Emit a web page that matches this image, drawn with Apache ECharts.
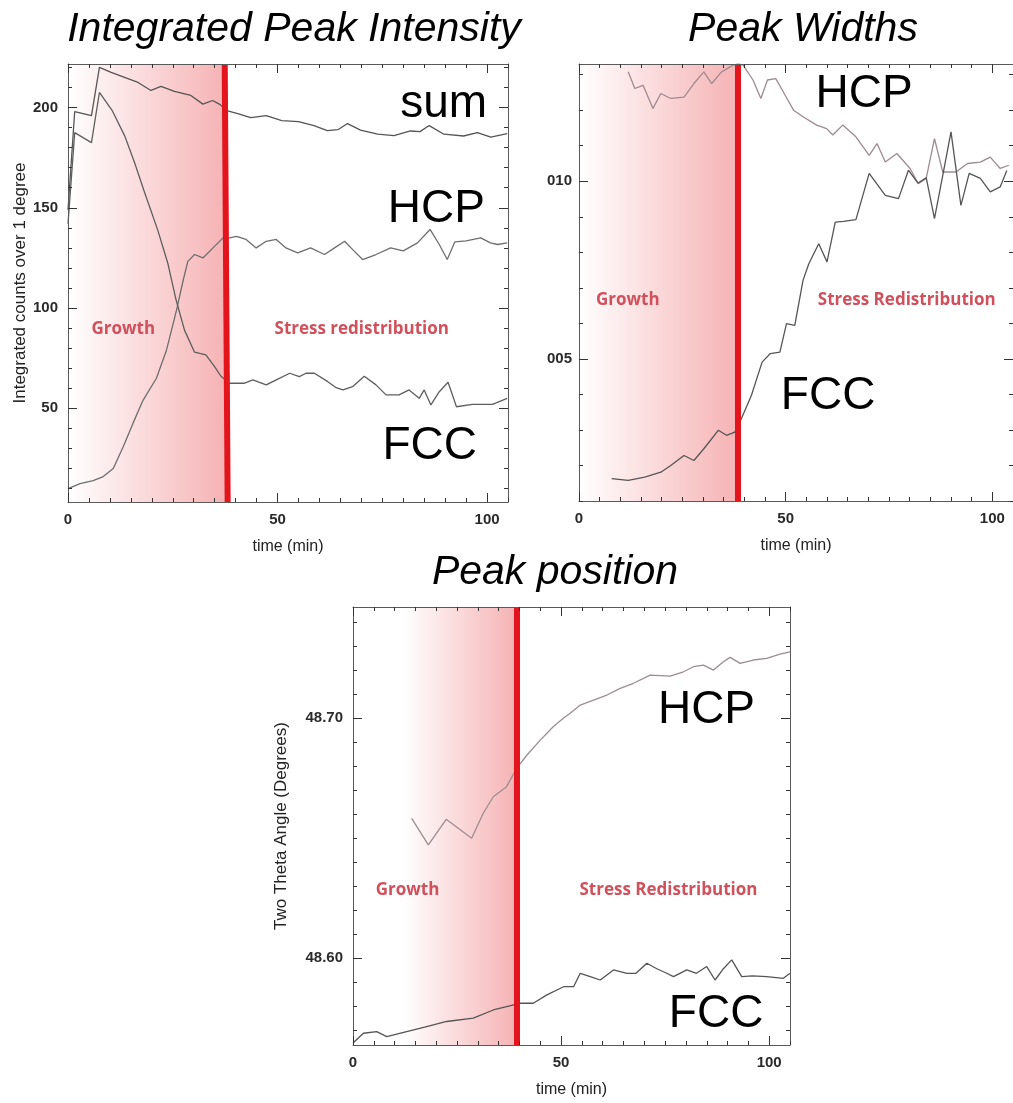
<!DOCTYPE html>
<html>
<head>
<meta charset="utf-8">
<script src="https://cdn.jsdelivr.net/npm/echarts@6/dist/echarts.min.js"></script>
<style>
  html, body { margin: 0; padding: 0; background: #ffffff; }
  #chart { width: 1013px; height: 1103px; }
</style>
</head>
<body>
<div id="chart"></div>
<script>
// ---------- Integrated peak intensity (counts over 1 degree) ----------
const intSumTime = [0, 1.6, 5.6, 7.5, 10.3, 13.5, 16.7, 19.8, 22.2, 25.4, 29.3, 32.2, 34.5, 36.1, 38.1, 40.5, 43.6, 47.3, 51, 55, 58.7, 61.9, 64.5, 66.7, 69.8, 73.9, 77.8, 81.7, 84, 86.2, 89.7, 94.4, 97.7, 100.9, 104.8];
const intSum     = [149, 198, 196, 220, 217.5, 215, 212.5, 208.5, 210.5, 208, 206, 201.7, 203.5, 201.7, 198.3, 197, 195, 196, 193.5, 193, 191, 188.5, 189, 192, 188.7, 186.7, 186, 188.3, 188, 191, 186.7, 185.8, 187.5, 185.2, 187];

const intHcpTime = [0, 2.9, 6, 8.4, 10.8, 13.2, 15.5, 17.9, 21.1, 23.5, 25.9, 27.5, 28.6, 30.2, 32.2, 34.6, 37, 38.6, 40.2, 42.5, 44.9, 47.3, 49.7, 52, 54.8, 57.9, 61.2, 63.6, 66, 68, 70.3, 73.5, 77, 80, 83.4, 86.4, 88.6, 90.5, 92.3, 95, 98.5, 100.8, 102.5, 104.8];
const intHcp     = [10, 12.5, 14, 16, 20, 31, 42.5, 54, 65, 79, 99, 114, 123.3, 126.7, 125, 130, 135, 135, 135.8, 134.2, 130, 133.3, 134.2, 130, 127.5, 130, 126.7, 130, 133.3, 129, 124.2, 126.7, 130, 128.5, 132.5, 139.2, 131.7, 124.2, 133, 133.5, 135, 132.5, 131.7, 132.5];

const intFccTime = [0, 1.6, 5.6, 7.5, 10.6, 13.5, 15.9, 18.3, 21.4, 23.8, 25.8, 27.8, 30.2, 32.9, 34.9, 36.5, 38.6, 42, 44.1, 47.3, 49.7, 52.9, 55.2, 56.8, 58.8, 62, 64, 65.6, 67.9, 70.7, 73.5, 75.9, 79, 81.4, 83.8, 85, 86.6, 88.6, 90.7, 92.7, 96.5, 101.3, 104.8];
const intFcc     = [142, 187.5, 182.5, 207.5, 198.3, 186, 172.5, 157.5, 139, 122.5, 104, 89, 78, 76.7, 71, 66, 62.5, 62.5, 64.2, 61.7, 64.2, 67.5, 65.8, 67.5, 67.5, 63.3, 60.3, 59.2, 60.8, 66, 61.7, 56.7, 56.7, 59.2, 55, 59.2, 51.7, 58.3, 63, 50.8, 52, 52, 55];

const intTicks = [50, 100, 150, 200];

// ---------- Peak widths ----------
const widHcpTime = [11.9, 13.5, 15.5, 17.9, 19.8, 22.2, 25.4, 27.8, 30.2, 32.1, 34.5, 37.3, 38.5, 39.7, 42.1, 44, 45.6, 47.6, 49.2, 51.9, 54.3, 57.5, 59.9, 61.4, 63.8, 67, 70.2, 72.1, 74.1, 76.9, 80.1, 82.1, 84, 86, 88, 91.2, 94, 97.1, 99.5, 101.9, 104];
const widHcp     = [0.01308, 0.01261, 0.01270, 0.01205, 0.01247, 0.01233, 0.01237, 0.01275, 0.01308, 0.01275, 0.01308, 0.01327, 0.01330, 0.01327, 0.01285, 0.01233, 0.01285, 0.01289, 0.01256, 0.01200, 0.01181, 0.01158, 0.01148, 0.01130, 0.01158, 0.01125, 0.01073, 0.01106, 0.01054, 0.01078, 0.01036, 0.00993, 0.01008, 0.01120, 0.01026, 0.01026, 0.01050, 0.01054, 0.01068, 0.01036, 0.01045];

const widFccTime = [7.9, 11.9, 15.9, 19.8, 22.2, 25.4, 27.8, 30.2, 33.7, 35.7, 37.7, 39.3, 41.7, 44.3, 46.3, 48.6, 50.2, 52.2, 54.2, 55.6, 58, 60, 62, 64, 67, 70.2, 74.1, 77.3, 79.7, 82, 84, 86, 88.1, 90, 92.4, 94.4, 97.1, 99.5, 101.9, 103.5];
const widFcc     = [0.00163, 0.00158, 0.00167, 0.00181, 0.00200, 0.00228, 0.00214, 0.00247, 0.00299, 0.00285, 0.00294, 0.00332, 0.00397, 0.00491, 0.00515, 0.00519, 0.00599, 0.00594, 0.00721, 0.00768, 0.00824, 0.00773, 0.00885, 0.00887, 0.00892, 0.01022, 0.00960, 0.00951, 0.01031, 0.00995, 0.01010, 0.00895, 0.01022, 0.01139, 0.00932, 0.01022, 0.01008, 0.00970, 0.00984, 0.01030];

const widTicks = [0.005, 0.010];
const widTickLabels = ['005', '010'];

// ---------- Peak position (two theta, degrees) ----------
const posHcpTime = [14.1, 18.1, 22.4, 28.5, 31.3, 33.7, 36.9, 39.3, 41.8, 45, 48.1, 50.6, 52.2, 54.6, 57.8, 61, 64.2, 67.4, 71.4, 76.2, 79.4, 81.8, 84.2, 86.6, 89, 90.6, 93, 96.2, 99.4, 102.6, 105];
const posHcp     = [48.6582, 48.6471, 48.6578, 48.6499, 48.6603, 48.6672, 48.6714, 48.6790, 48.6846, 48.6908, 48.6964, 48.7000, 48.7020, 48.7054, 48.7075, 48.7096, 48.7124, 48.7145, 48.7179, 48.7175, 48.7193, 48.7214, 48.7221, 48.7200, 48.7235, 48.7253, 48.7228, 48.7242, 48.7249, 48.7267, 48.7276];

const posFccTime = [0, 2.5, 5.7, 8.1, 12.9, 17.7, 22.5, 28.9, 33.7, 36.9, 40.1, 43.3, 46.6, 50.6, 53, 54.6, 57, 59.4, 62.6, 65.8, 68, 70.6, 73, 75.4, 77, 80.2, 82.5, 85, 87, 89, 91, 93.4, 96, 99.4, 103.4, 105];
const posFcc     = [48.5645, 48.5686, 48.5693, 48.5672, 48.5693, 48.5714, 48.5735, 48.5749, 48.5783, 48.5797, 48.5811, 48.5811, 48.5846, 48.5880, 48.5880, 48.5936, 48.5922, 48.5908, 48.5950, 48.5936, 48.5936, 48.5978, 48.5955, 48.5936, 48.5922, 48.5950, 48.5936, 48.5964, 48.5908, 48.5955, 48.5992, 48.5922, 48.5925, 48.5922, 48.5915, 48.5936];

const posTicks = [48.60, 48.70];

const timeTicks = [0, 50, 100];

// ---------- helpers ----------
const chart = echarts.init(document.getElementById('chart'), null, { renderer: 'canvas' });

function steps(lo, hi, step) {
  const out = [];
  const start = Math.ceil(lo / step - 1e-9);
  for (let k = start; k * step <= hi + 1e-12; k++) out.push(+(k * step).toFixed(6));
  return out;
}

const tickLabelStyle = {
  fontFamily: 'Liberation Sans, Arial, sans-serif',
  fontWeight: 'bold',
  fontSize: 15,
  color: '#2a2a2a'
};
const nameStyle = {
  fontFamily: 'Liberation Sans, Arial, sans-serif',
  fontSize: 16,
  color: '#222'
};

const xAxes = [];
const yAxes = [];

// One framed side of a box: main axis (line, long ticks, optional labels) plus a minor-tick axis
function side(list, gi, pos, range, majors, minors, labelOpt, nameOpt) {
  const base = {
    type: 'value', gridIndex: gi, position: pos, z: 10,
    min: range[0], max: range[1],
    splitLine: { show: false }, splitArea: { show: false }
  };
  const main = Object.assign({}, base, {
    axisLine: { show: true, onZero: false, lineStyle: { color: '#5a5a5a', width: 1 } },
    axisTick: { show: true, inside: true, length: 9, customValues: majors, lineStyle: { color: '#333', width: 1 } },
    axisLabel: labelOpt ? Object.assign({ show: true, customValues: majors }, tickLabelStyle, labelOpt) : { show: false }
  }, nameOpt || {});
  list.push(main);
  const idx = list.length - 1;
  list.push(Object.assign({}, base, {
    axisLine: { show: false, onZero: false },
    axisTick: { show: true, inside: true, length: 4, customValues: minors, lineStyle: { color: '#333', width: 1 } },
    axisLabel: { show: false }
  }));
  return idx;
}

function box(gi, xr, yr, xMinorStep, yMinorStep, yMajors, yLabelOpt, yNameOpt) {
  const xMinors = steps(xr[0], xr[1], xMinorStep);
  const yMinors = steps(yr[0], yr[1], yMinorStep);
  const xi = side(xAxes, gi, 'bottom', xr, timeTicks, xMinors, { margin: 10 },
    { name: 'time (min)', nameLocation: 'middle', nameGap: 37, nameTextStyle: nameStyle });
  side(xAxes, gi, 'top', xr, timeTicks, xMinors, null, null);
  const yi = side(yAxes, gi, 'left', yr, yMajors, yMinors, yLabelOpt, yNameOpt);
  side(yAxes, gi, 'right', yr, yMajors, yMinors, null, null);
  return { xi, yi };
}

const intRange = [3.3, 221.7];
const widRange = [0.001, 0.0133];
const posRange = [48.5637, 48.7463];
const timeRange = [0, 105];

const gA = box(0, timeRange, intRange, 5, 10, intTicks, { margin: 10 },
  { name: 'Integrated counts over 1 degree', nameLocation: 'middle', nameGap: 34,
    nameTextStyle: Object.assign({}, nameStyle, { fontSize: 17 }) });
const gB = box(1, timeRange, widRange, 5, 0.001, widTicks,
  { margin: 7, formatter: v => widTickLabels[widTicks.findIndex(t => Math.abs(t - v) < 1e-9)] || '' }, null);
const gC = box(2, timeRange, posRange, 5, 0.01, posTicks,
  { margin: 10, formatter: v => v.toFixed(2) },
  { name: 'Two Theta Angle (Degrees)', nameLocation: 'middle', nameGap: 63,
    nameTextStyle: Object.assign({}, nameStyle, { fontSize: 17 }) });

function pairs(t, v) { return t.map((x, i) => [x, v[i]]); }

function line(name, t, v, ax, color) {
  return {
    type: 'line', name, xAxisIndex: ax.xi, yAxisIndex: ax.yi,
    data: pairs(t, v), showSymbol: false, symbol: 'none', clip: true,
    lineStyle: { color, width: 1.3 }, silent: true, z: 3
  };
}

const shade = (x0, x1) => ({
  silent: true,
  itemStyle: {
    opacity: 1,
    color: { type: 'linear', x: 0, y: 0, x2: 1, y2: 0,
      colorStops: [{ offset: 0, color: '#ffffff' }, { offset: 1, color: '#f6b2b4' }] }
  },
  data: [[{ xAxis: x0 }, { xAxis: x1 }]]
});

const boundary = (xTop, xBottom, yr) => ({
  silent: true, symbol: ['none', 'none'], animation: false,
  label: { show: false },
  lineStyle: { color: '#e3141c', width: 6, type: 'solid', opacity: 1 },
  emphasis: { disabled: true },
  data: [[{ coord: [xTop, yr[1]] }, { coord: [xBottom, yr[0]] }]]
});

const bigLabel = { show: true, position: 'inside', align: 'right', verticalAlign: 'middle',
  fontFamily: 'Liberation Sans, Arial, sans-serif', fontSize: 46, color: '#000', formatter: '{b}' };
const phaseLabel = { show: true, position: 'inside', align: 'center', verticalAlign: 'middle',
  fontFamily: 'Open Sans, DejaVu Sans, sans-serif', fontWeight: 'bold', fontSize: 17,
  color: '#d0505b', formatter: '{b}' };

function notes(items) {
  return {
    silent: true, symbol: 'circle', symbolSize: 0, animation: false,
    itemStyle: { color: 'transparent' },
    data: items.map(([name, coord, lab]) => ({ name, coord, label: lab }))
  };
}

const series = [];

// Integrated peak intensity
const sA = line('sum', intSumTime, intSum, gA, '#555555');
sA.markArea = shade(0, 37.7);
sA.markLine = boundary(37.4, 38.1, intRange);
sA.markPoint = notes([
  ['sum', [100, 201.7], bigLabel],
  ['HCP', [99.5, 149.2], bigLabel],
  ['FCC', [97.6, 31], bigLabel],
  ['Growth', [13.2, 89.6], phaseLabel],
  ['Stress redistribution', [70.1, 89.6], phaseLabel]
]);
series.push(sA);
series.push(line('HCP', intHcpTime, intHcp, gA, '#6e6e6e'));
series.push(line('FCC', intFccTime, intFcc, gA, '#5e5e5e'));

// Peak widths
const sB = line('HCP', widHcpTime, widHcp, gB, '#9e8a91');
sB.markArea = shade(0, 38.5);
sB.markLine = boundary(38.5, 38.5, widRange);
sB.markPoint = notes([
  ['HCP', [80.7, 0.01245], bigLabel],
  ['FCC', [71.7, 0.00396], bigLabel],
  ['Growth', [11.8, 0.00665], phaseLabel],
  ['Stress Redistribution', [79.3, 0.00665], phaseLabel]
]);
series.push(sB);
series.push(line('FCC', widFccTime, widFcc, gB, '#555555'));

// Peak position
const sC = line('HCP', posHcpTime, posHcp, gC, '#9c8d92');
sC.markArea = shade(12, 39.3);
sC.markLine = boundary(39.3, 39.3, posRange);
sC.markPoint = notes([
  ['HCP', [96.6, 48.7034], bigLabel],
  ['FCC', [98.6, 48.5766], bigLabel],
  ['Growth', [13.1, 48.6284], phaseLabel],
  ['Stress Redistribution', [75.8, 48.6284], phaseLabel]
]);
series.push(sC);
series.push(line('FCC', posFccTime, posFcc, gC, '#555555'));

const titleFont = 'italic 41px "Liberation Sans", Arial, sans-serif';

chart.setOption({
  animation: false,
  backgroundColor: '#ffffff',
  grid: [
    { left: 68, top: 64, width: 440, height: 438 },
    { left: 579, top: 64, width: 441, height: 437 },
    { left: 353, top: 607, width: 437, height: 438 }
  ],
  xAxis: xAxes,
  yAxis: yAxes,
  series,
  graphic: [
    { type: 'text', x: 294, y: 30, silent: true,
      style: { text: 'Integrated Peak Intensity', font: titleFont, fill: '#000', align: 'center', verticalAlign: 'middle' } },
    { type: 'text', x: 803, y: 30, silent: true,
      style: { text: 'Peak Widths', font: titleFont, fill: '#000', align: 'center', verticalAlign: 'middle' } },
    { type: 'text', x: 555, y: 573, silent: true,
      style: { text: 'Peak position', font: titleFont, fill: '#000', align: 'center', verticalAlign: 'middle' } }
  ]
});
</script>
</body>
</html>
